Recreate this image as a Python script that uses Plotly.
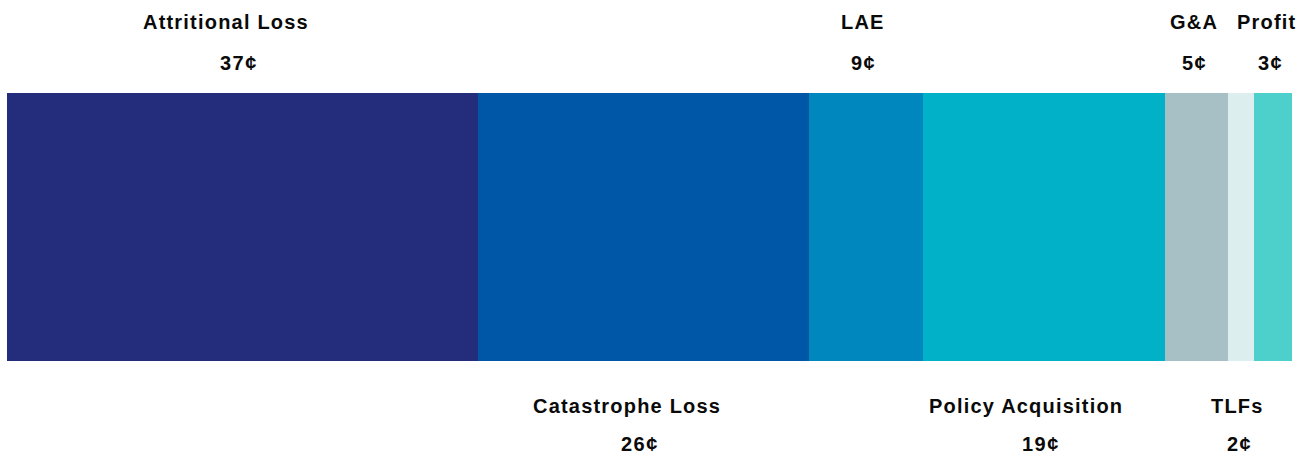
import plotly.graph_objects as go

# Premium dollar breakdown, in cents
categories = ["Attritional Loss", "Catastrophe Loss", "LAE", "Policy Acquisition",
              "G&A", "TLFs", "Profit"]
cents = [37, 26, 9, 19, 5, 2, 3]
label_side = ["top", "bottom", "top", "bottom", "top", "bottom", "top"]
colors = ["#232D7B", "#0057A8", "#0087BD", "#00B1C8", "#A7C0C5", "#DDEEEF", "#4DD0CC"]

fig = go.Figure()
for name, v, c in zip(categories, cents, colors):
    fig.add_trace(go.Bar(
        x=[v], y=[0], orientation="h", name=name,
        marker=dict(color=c, line=dict(width=0)),
        hoverinfo="name+x", showlegend=False,
    ))

font = dict(family="Liberation Sans, Arial, sans-serif", size=20, color="#0a0a0a")
annotations = []
start = 0
for name, v, side in zip(categories, cents, label_side):
    mid = start + v / 2
    start += v
    value_text = f"{v}¢"
    if side == "top":
        name_shift, value_shift, y = 71, 30, 1
    else:
        name_shift, value_shift, y = -45, -83, 0
    for text, ys, spacing in ((name, name_shift, 1.2), (value_text, value_shift, 1.5)):
        annotations.append(dict(
            x=mid, xref="x", y=y, yref="paper",
            text=f'<span style="letter-spacing:{spacing}px"><b>{text}</b></span>',
            showarrow=False, xanchor="center", yanchor="middle",
            yshift=ys, xshift=-1.0 * len(text), font=font,
        ))

fig.update_layout(
    barmode="stack",
    bargap=0,
    width=1312, height=457,
    margin=dict(l=7, r=20, t=93, b=96),
    paper_bgcolor="white", plot_bgcolor="white",
    xaxis=dict(range=[0, sum(cents)], visible=False, fixedrange=True),
    yaxis=dict(range=[-0.5, 0.5], visible=False, fixedrange=True),
    annotations=annotations,
)

fig.write_html("out.html")
